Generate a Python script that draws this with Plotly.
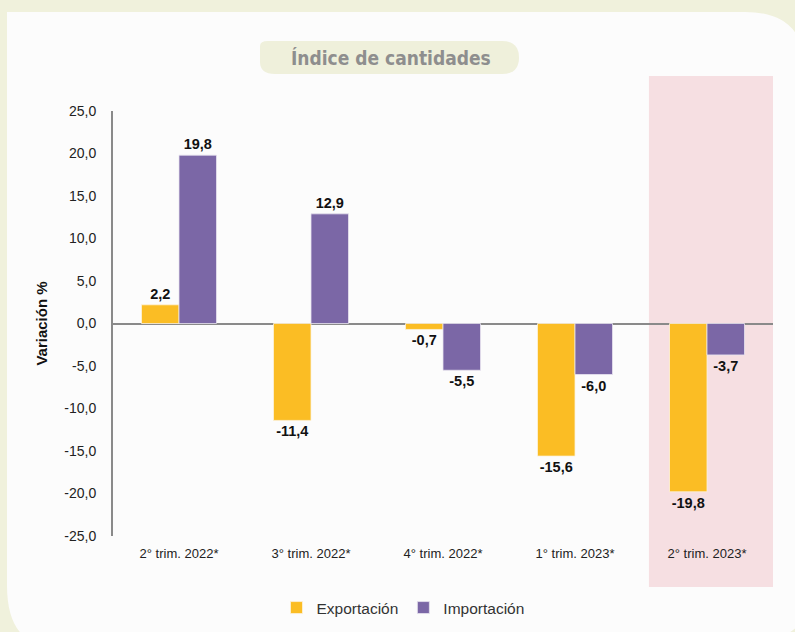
import plotly.graph_objects as go

categories = ["2° trim. 2022*", "3° trim. 2022*", "4° trim. 2022*", "1° trim. 2023*", "2° trim. 2023*"]
exportacion = [2.2, -11.4, -0.7, -15.6, -19.8]
importacion = [19.8, 12.9, -5.5, -6.0, -3.7]
y_ticks = [-25, -20, -15, -10, -5, 0, 5, 10, 15, 20, 25]
y_ticktext = ["-25,0", "-20,0", "-15,0", "-10,0", "-5,0", "0,0", "5,0", "10,0", "15,0", "20,0", "25,0"]

W, H = 795, 632
L, R, T, B = 113, 22, 111, 96
PW, PH = W - L - R, H - T - B


def px(x):
    return (x - L) / PW


def py(y):
    return (H - B - y) / PH


def fmt(v):
    return f"{v:.1f}".replace(".", ",")


fig = go.Figure()
fig.add_trace(go.Bar(
    name="Exportación", x=categories, y=exportacion,
    marker=dict(color="#fbbd24", line=dict(color="#fdf3dc", width=0.8)),
    text=[fmt(v) for v in exportacion], textposition="outside",
    textfont=dict(family="Liberation Sans", size=14.5, color="#111111", weight="bold"),
    cliponaxis=False,
))
fig.add_trace(go.Bar(
    name="Importación", x=categories, y=importacion,
    marker=dict(color="#7b67a6", line=dict(color="#e9e4f0", width=0.8)),
    text=[fmt(v) for v in importacion], textposition="outside",
    textfont=dict(family="Liberation Sans", size=14.5, color="#111111", weight="bold"),
    cliponaxis=False,
))

# white panel with rounded corners
panel = (
    f"M {px(7)},{py(12)} L {px(745)},{py(12)} "
    f"Q {px(805)},{py(12)} {px(805)},{py(70)} "
    f"L {px(820)},{py(560)} Q {px(820)},{py(645)} {px(740)},{py(645)} "
    f"L {px(45)},{py(645)} Q {px(7)},{py(640)} {px(7)},{py(585)} Z"
)
fig.add_shape(type="path", path=panel, xref="paper", yref="paper",
              fillcolor="#fcfcfc", line=dict(width=0), layer="below")

# pink highlight
fig.add_shape(type="rect", xref="x", yref="paper", x0=3.56, x1=4.5,
              y0=py(587), y1=py(76), fillcolor="#f6dfe2", line=dict(width=0), layer="below")

# title pill
pill = (
    f"M {px(268)},{py(41)} L {px(502)},{py(41)} "
    f"Q {px(519)},{py(41)} {px(519)},{py(57.5)} "
    f"Q {px(519)},{py(74)} {px(502)},{py(74)} "
    f"L {px(275)},{py(74)} Q {px(260)},{py(74)} {px(260)},{py(62)} "
    f"L {px(260)},{py(46)} Q {px(260)},{py(41)} {px(268)},{py(41)} Z"
)
fig.add_shape(type="path", path=pill, xref="paper", yref="paper",
              fillcolor="#eff0db", line=dict(width=0), layer="below")
fig.add_annotation(text="Índice de cantidades", xref="paper", yref="paper",
                   x=px(391), y=py(58), showarrow=False, xanchor="center", yanchor="middle",
                   font=dict(family="DejaVu Sans Condensed, Roboto, Liberation Sans", size=19,
                             color="#8e8e8e", weight="bold"))

fig.update_layout(
    width=W, height=H,
    margin=dict(l=L, r=R, t=T, b=B, pad=0, autoexpand=False),
    paper_bgcolor="#f0f1dc",
    plot_bgcolor="rgba(0,0,0,0)",
    barmode="group", bargap=0.432, bargroupgap=0,
    font=dict(family="Liberation Sans", size=13, color="#222222"),
    showlegend=True,
    legend=dict(orientation="h", x=px(403), xanchor="center",
                y=py(608), yanchor="middle", font=dict(size=15.5, color="#333333"),
                traceorder="normal", itemwidth=30, bgcolor="rgba(0,0,0,0)"),
    xaxis=dict(showline=False, showgrid=False, zeroline=False, ticks="",
               tickfont=dict(size=13, color="#222222"), ticklabelstandoff=8),
    yaxis=dict(range=[-25, 25], tickvals=y_ticks, ticktext=y_ticktext,
               showgrid=False, showline=True, linecolor="#8a8a8a", linewidth=2,
               zeroline=True, zerolinecolor="#8a8a8a", zerolinewidth=1.5,
               ticks="", ticklabelstandoff=12,
               tickfont=dict(size=14, color="#222222"),
               title=dict(text="Variación %", standoff=13,
                          font=dict(size=15, color="#111111", weight="bold"))),
)

fig.write_html("out.html", config={"displayModeBar": False},
               post_script="document.body.style.margin='0';document.body.style.overflow='hidden';")
